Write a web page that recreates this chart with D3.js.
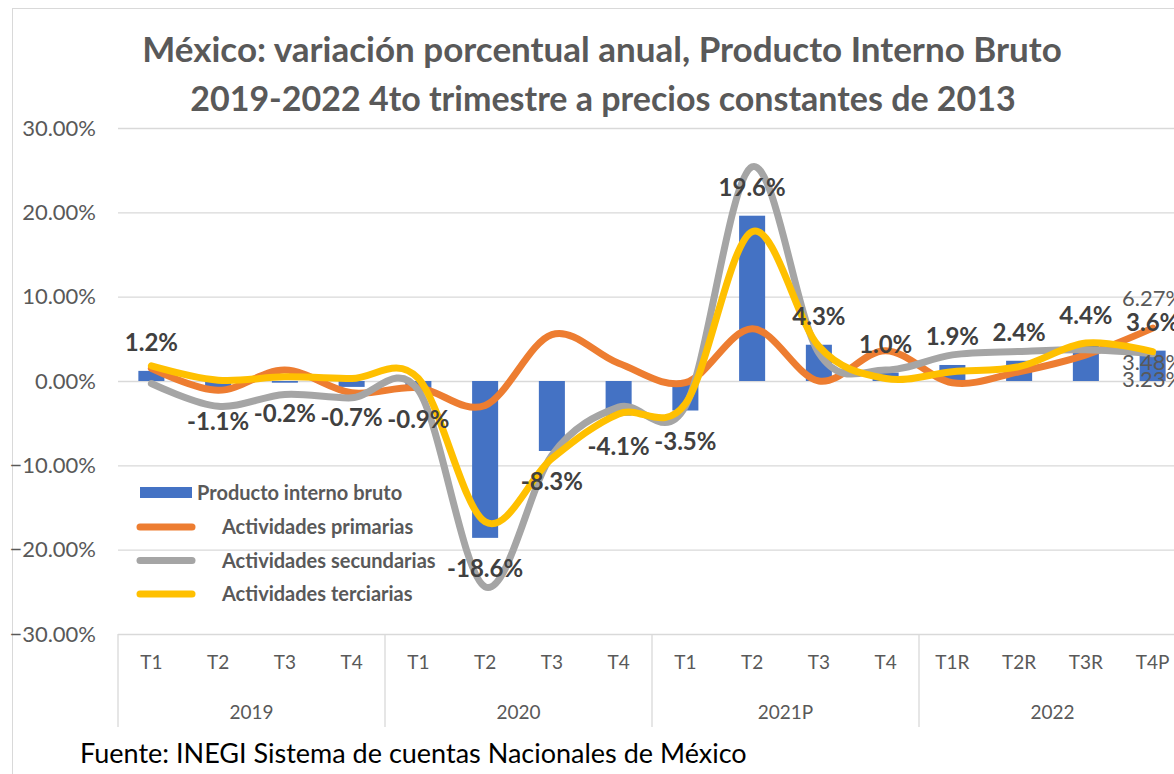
<!DOCTYPE html>
<html>
<head>
<meta charset="utf-8">
<script src="https://cdn.jsdelivr.net/npm/d3@7"></script>
<style>
  body { margin: 0; background: #fff; }
  svg { display: block; }
</style>
</head>
<body>
<div id="chart"></div>
<script>
// categorias (trimestres) y años
var quarters = ["T1", "T2", "T3", "T4", "T1", "T2", "T3", "T4", "T1", "T2", "T3", "T4", "T1R", "T2R", "T3R", "T4P"];
var years = ["2019", "2020", "2021P", "2022"];
var yTicks = [-30, -20, -10, 0, 10, 20, 30];

// series
var pib = [1.2, -1.1, -0.2, -0.7, -0.9, -18.6, -8.3, -4.1, -3.5, 19.6, 4.3, 1.0, 1.9, 2.4, 4.4, 3.6];
var primarias = [1.5, -1.1, 1.3, -1.4, -0.8, -2.9, 5.5, 2.1, -0.2, 6.2, 0.0, 3.6, -0.2, 1.1, 3.1, 6.27];
var secundarias = [-0.3, -3.0, -1.6, -2.0, -1.1, -24.4, -8.8, -3.1, -3.0, 25.4, 3.3, 1.3, 3.1, 3.5, 3.7, 3.23];
var terciarias = [1.8, 0.1, 0.5, 0.3, 0.3, -16.7, -9.2, -3.9, -2.7, 17.7, 4.1, 0.3, 1.1, 1.7, 4.5, 3.48];

var W = 1174, H = 774;
var pLeft = 118, pRight = 1186, pTop = 128, pBottom = 634;
var txt = "#595959", lbl = "#404040";
var fontF = "Lato, 'Open Sans', sans-serif";

var svg = d3.select("#chart").append("svg")
    .attr("width", W)
    .attr("height", H)
    .style("font-family", fontF);

// marco del grafico
svg.append("rect")
    .attr("x", 12.5).attr("y", 8.5)
    .attr("width", 1300).attr("height", 900)
    .attr("fill", "none")
    .attr("stroke", "#d9d9d9");

var idx = d3.range(quarters.length);
var x = d3.scaleBand().domain(idx).range([pLeft, pRight]).paddingInner(0.61).paddingOuter(0.305);
var xc = i => x(i) + x.bandwidth() / 2;
var y = d3.scaleLinear().domain([-30, 30]).range([pBottom, pTop]);

// titulo
svg.append("text")
    .attr("x", 602).attr("y", 62)
    .attr("text-anchor", "middle")
    .attr("font-size", 35).attr("font-weight", "bold")
    .attr("fill", txt)
    .text("México: variación porcentual anual, Producto Interno Bruto");
svg.append("text")
    .attr("x", 603).attr("y", 111)
    .attr("text-anchor", "middle")
    .attr("font-size", 34).attr("font-weight", "bold")
    .attr("fill", txt)
    .text("2019-2022 4to trimestre a precios constantes de 2013");

// eje Y con lineas de cuadricula
var yAxis = g => g
    .attr("transform", `translate(${pLeft},0)`)
    .call(d3.axisLeft(y).tickValues(yTicks).tickSize(-(pRight - pLeft)).tickPadding(22)
        .tickFormat(d => d3.format(".2f")(d) + "%"))
    .call(g => g.select(".domain").remove())
    .call(g => g.selectAll(".tick line").attr("stroke", "#d9d9d9").attr("stroke-width", 1.3))
    .call(g => g.selectAll(".tick text").attr("fill", txt).attr("font-size", 22).attr("font-family", fontF));
svg.append("g").call(yAxis);

// eje X: trimestres
var xAxis = g => g
    .attr("transform", `translate(0,${pBottom})`)
    .call(d3.axisBottom(x).tickSize(0).tickPadding(22).tickFormat(i => quarters[i]))
    .call(g => g.select(".domain").remove())
    .call(g => g.selectAll(".tick text").attr("fill", txt).attr("font-size", 19).attr("font-family", fontF));
svg.append("g").call(xAxis);

// separadores de años
var step = (pRight - pLeft) / quarters.length;
svg.append("g").selectAll("line")
    .data(d3.range(years.length + 1))
    .join("line")
    .attr("x1", d => pLeft + d * 4 * step).attr("x2", d => pLeft + d * 4 * step)
    .attr("y1", pBottom).attr("y2", 727)
    .attr("stroke", "#d9d9d9").attr("stroke-width", 1.3);

svg.append("g").selectAll("text")
    .data(years)
    .join("text")
    .attr("x", (d, i) => pLeft + (i * 4 + 2) * step)
    .attr("y", 719)
    .attr("text-anchor", "middle")
    .attr("font-size", 19)
    .attr("fill", txt)
    .text(d => d);

// barras PIB
svg.append("g").selectAll("rect")
    .data(pib)
    .join("rect")
    .attr("x", (d, i) => x(i))
    .attr("width", x.bandwidth())
    .attr("y", d => y(Math.max(0, d)))
    .attr("height", d => Math.abs(y(d) - y(0)))
    .attr("fill", "#4472c4");

// lineas suavizadas
var line = d3.line()
    .x((d, i) => xc(i))
    .y(d => y(d))
    .curve(d3.curveCatmullRom.alpha(0));

var series = [
    { name: "Actividades primarias", values: primarias, color: "#ed7d31" },
    { name: "Actividades secundarias", values: secundarias, color: "#a5a5a5" },
    { name: "Actividades terciarias", values: terciarias, color: "#ffc000" }
];

series.forEach(s => {
    svg.append("path")
        .datum(s.values)
        .attr("fill", "none")
        .attr("stroke", s.color)
        .attr("stroke-width", 7)
        .attr("stroke-linejoin", "round")
        .attr("stroke-linecap", "round")
        .attr("d", line);
});

// etiquetas de las barras
svg.append("g").selectAll("text")
    .data(pib)
    .join("text")
    .attr("x", (d, i) => xc(i))
    .attr("y", d => d >= 0 ? y(d) - 28 : y(d) + 31)
    .attr("dy", "0.35em")
    .attr("text-anchor", "middle")
    .attr("font-size", 24)
    .attr("font-weight", "bold")
    .attr("fill", lbl)
    .text(d => d.toFixed(1) + "%");

// etiquetas del ultimo punto de cada linea
var last = quarters.length - 1;
var endLabels = [
    { v: primarias[last], dy: -30 },
    { v: terciarias[last], dy: 11 },
    { v: secundarias[last], dy: 26 }
];
svg.append("g").selectAll("text")
    .data(endLabels)
    .join("text")
    .attr("x", xc(last))
    .attr("y", d => y(d.v) + d.dy)
    .attr("dy", "0.35em")
    .attr("text-anchor", "middle")
    .attr("font-size", 22)
    .attr("fill", txt)
    .text(d => d.v.toFixed(2) + "%");

// leyenda
var lg = svg.append("g").attr("font-weight", "bold").attr("font-size", 20).attr("fill", txt);
lg.append("rect").attr("x", 140).attr("y", 487).attr("width", 52).attr("height", 11).attr("fill", "#4472c4");
lg.append("text").attr("x", 197).attr("y", 493).attr("dy", "0.35em").text("Producto interno bruto");
series.forEach((s, i) => {
    var ly = 527 + i * 33.5;
    lg.append("line")
        .attr("x1", 140).attr("x2", 192)
        .attr("y1", ly).attr("y2", ly)
        .attr("stroke", s.color).attr("stroke-width", 7).attr("stroke-linecap", "round");
    lg.append("text").attr("x", 222).attr("y", ly).attr("dy", "0.35em").text(s.name);
});

// fuente
svg.append("text")
    .attr("x", 80).attr("y", 763)
    .attr("font-size", 27)
    .attr("fill", "#000")
    .text("Fuente: INEGI Sistema de cuentas Nacionales de México");
</script>
</body>
</html>
